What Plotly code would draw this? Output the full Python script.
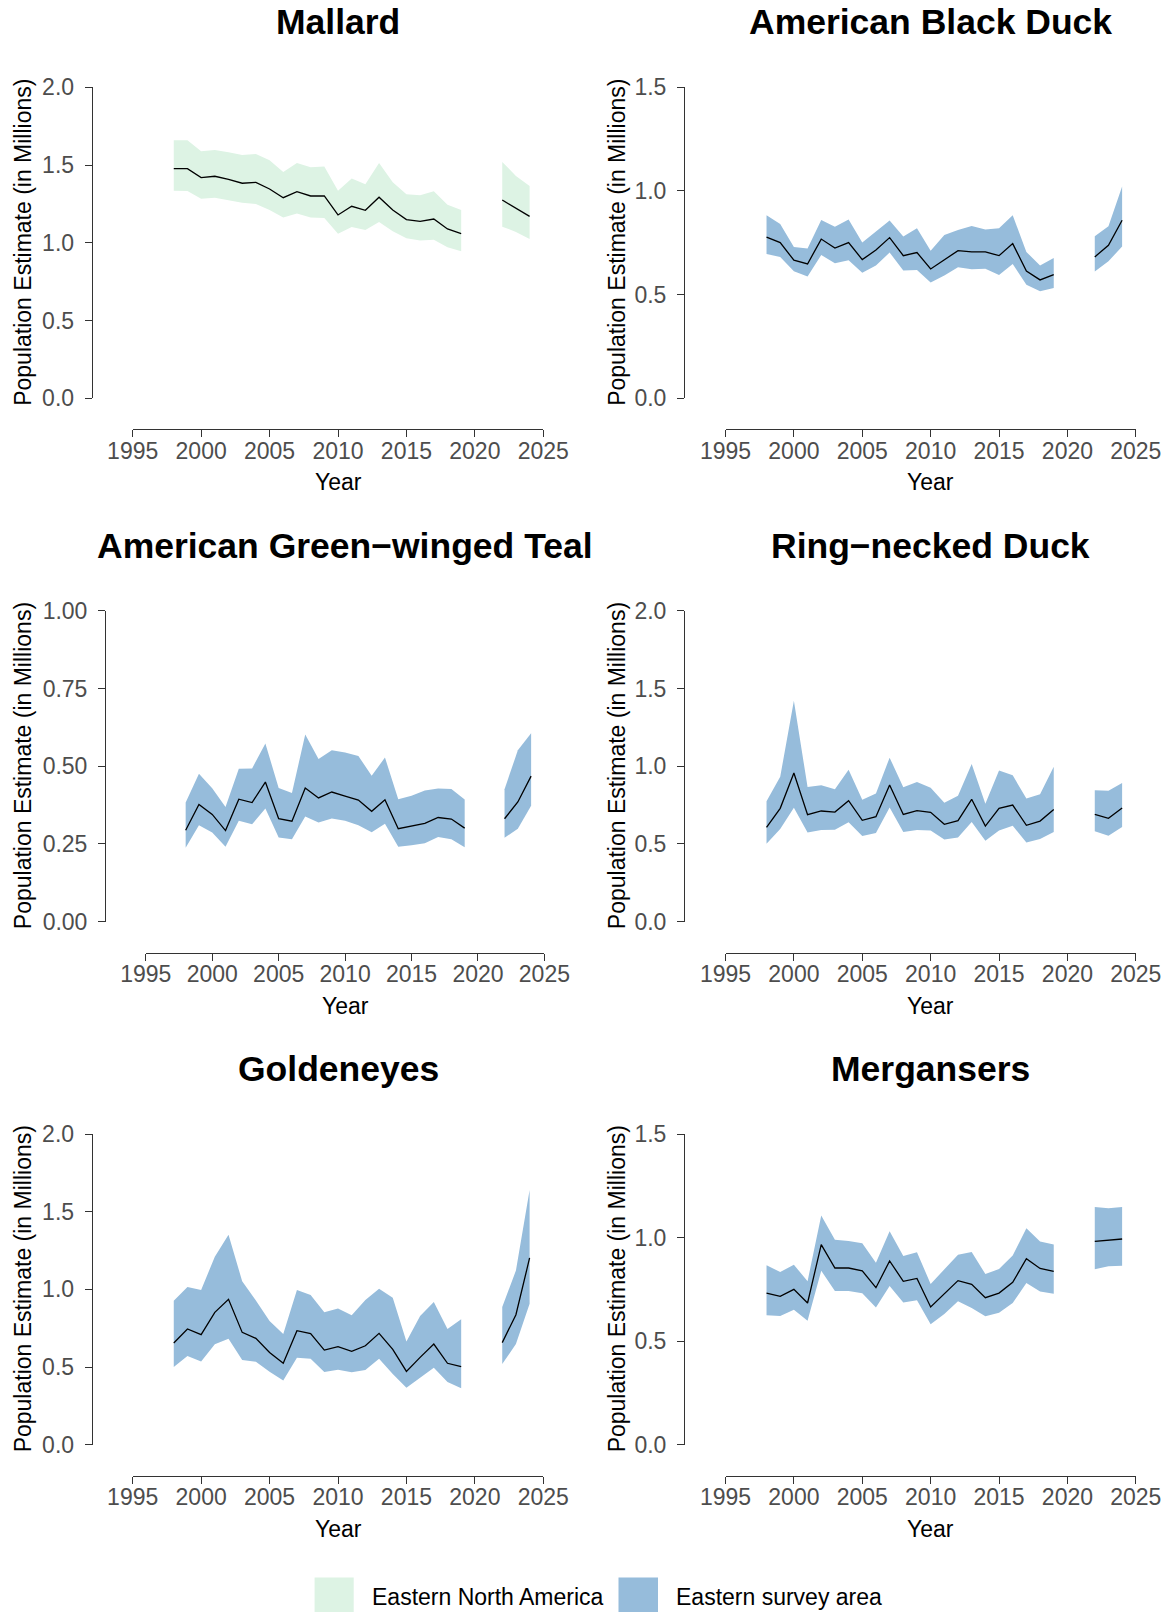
import plotly.graph_objects as go

# Survey years (no survey in 2020-2021)
years = [1998, 1999, 2000, 2001, 2002, 2003, 2004, 2005, 2006, 2007, 2008,
         2009, 2010, 2011, 2012, 2013, 2014, 2015, 2016, 2017, 2018, 2019,
         2022, 2023, 2024]

# Population estimates (millions) with lower / upper credible bounds
mallard_est = [1.477, 1.477, 1.419, 1.428, 1.408, 1.383, 1.389, 1.346, 1.290, 1.329, 1.301,
               1.301, 1.179, 1.235, 1.209, 1.293, 1.211, 1.149, 1.138, 1.153, 1.089, 1.059,
               1.275, 1.223, 1.170]
mallard_lo = [1.335, 1.333, 1.284, 1.290, 1.275, 1.258, 1.250, 1.211, 1.162, 1.188, 1.162,
              1.160, 1.059, 1.102, 1.083, 1.134, 1.074, 1.029, 1.014, 1.020, 0.971, 0.945,
              1.104, 1.070, 1.025]
mallard_hi = [1.659, 1.659, 1.588, 1.597, 1.582, 1.565, 1.571, 1.531, 1.456, 1.513, 1.486,
              1.490, 1.335, 1.413, 1.376, 1.513, 1.389, 1.312, 1.305, 1.331, 1.245, 1.211,
              1.520, 1.430, 1.365]

black_duck_est = [0.777, 0.751, 0.666, 0.648, 0.768, 0.725, 0.751, 0.669, 0.715, 0.775, 0.688,
                  0.703, 0.624, 0.670, 0.712, 0.706, 0.706, 0.688, 0.746, 0.614, 0.571, 0.596,
                  0.682, 0.738, 0.859]
black_duck_lo = [0.696, 0.682, 0.613, 0.587, 0.691, 0.651, 0.666, 0.606, 0.640, 0.703, 0.617,
                 0.619, 0.559, 0.592, 0.632, 0.622, 0.625, 0.595, 0.648, 0.548, 0.516, 0.532,
                 0.611, 0.661, 0.732]
black_duck_hi = [0.883, 0.841, 0.730, 0.723, 0.860, 0.828, 0.862, 0.751, 0.805, 0.857, 0.780,
                 0.820, 0.712, 0.788, 0.812, 0.831, 0.814, 0.820, 0.883, 0.706, 0.640, 0.677,
                 0.781, 0.830, 1.021]

teal_est = [0.294, 0.377, 0.345, 0.293, 0.394, 0.383, 0.449, 0.331, 0.323, 0.430, 0.398,
            0.417, 0.404, 0.391, 0.355, 0.392, 0.299, 0.308, 0.316, 0.335, 0.330, 0.301,
            0.331, 0.385, 0.468]
teal_lo = [0.238, 0.310, 0.287, 0.241, 0.325, 0.313, 0.364, 0.271, 0.265, 0.338, 0.319,
           0.332, 0.325, 0.310, 0.288, 0.315, 0.241, 0.246, 0.252, 0.272, 0.265, 0.239,
           0.270, 0.299, 0.373]
teal_hi = [0.383, 0.476, 0.429, 0.369, 0.492, 0.493, 0.573, 0.430, 0.414, 0.602, 0.523,
           0.551, 0.544, 0.533, 0.469, 0.528, 0.394, 0.405, 0.422, 0.428, 0.427, 0.393,
           0.426, 0.551, 0.606]

ring_est = [0.607, 0.729, 0.956, 0.688, 0.712, 0.705, 0.778, 0.652, 0.675, 0.879, 0.690,
            0.714, 0.703, 0.626, 0.650, 0.787, 0.615, 0.729, 0.750, 0.620, 0.647, 0.722,
            0.690, 0.665, 0.731]
ring_lo = [0.502, 0.596, 0.733, 0.574, 0.590, 0.592, 0.639, 0.551, 0.570, 0.735, 0.577,
           0.590, 0.587, 0.529, 0.542, 0.641, 0.521, 0.587, 0.617, 0.510, 0.532, 0.577,
           0.581, 0.553, 0.609]
ring_hi = [0.774, 0.932, 1.421, 0.866, 0.877, 0.851, 0.977, 0.785, 0.825, 1.055, 0.864,
           0.898, 0.862, 0.765, 0.810, 1.014, 0.759, 0.973, 0.941, 0.793, 0.819, 0.997,
           0.845, 0.842, 0.892]

goldeneye_est = [0.655, 0.745, 0.708, 0.852, 0.936, 0.723, 0.685, 0.594, 0.524, 0.734, 0.715,
                 0.609, 0.631, 0.601, 0.637, 0.717, 0.614, 0.472, 0.562, 0.648, 0.524, 0.502,
                 0.657, 0.837, 1.202]
goldeneye_lo = [0.500, 0.571, 0.536, 0.646, 0.682, 0.545, 0.534, 0.470, 0.414, 0.560, 0.554,
                0.468, 0.483, 0.466, 0.481, 0.554, 0.455, 0.367, 0.429, 0.496, 0.403, 0.363,
                0.519, 0.648, 0.908]
goldeneye_hi = [0.927, 1.015, 0.996, 1.210, 1.352, 1.052, 0.929, 0.796, 0.712, 0.996, 0.964,
                0.852, 0.876, 0.833, 0.931, 1.004, 0.946, 0.665, 0.828, 0.918, 0.745, 0.807,
                0.886, 1.122, 1.639]

merganser_est = [0.732, 0.716, 0.750, 0.684, 0.966, 0.853, 0.853, 0.839, 0.758, 0.887, 0.789,
                 0.803, 0.665, 0.728, 0.792, 0.774, 0.710, 0.732, 0.784, 0.898, 0.851, 0.837,
                 0.982, 0.987, 0.993]
merganser_lo = [0.625, 0.621, 0.652, 0.599, 0.840, 0.742, 0.742, 0.731, 0.662, 0.766, 0.687,
                0.697, 0.581, 0.631, 0.692, 0.660, 0.620, 0.637, 0.684, 0.781, 0.740, 0.729,
                0.847, 0.861, 0.864]
merganser_hi = [0.866, 0.834, 0.869, 0.789, 1.107, 0.990, 0.983, 0.972, 0.879, 1.030, 0.911,
                0.929, 0.776, 0.847, 0.917, 0.930, 0.824, 0.848, 0.913, 1.045, 0.981, 0.967,
                1.148, 1.141, 1.148]

# Axis ticks
year_ticks = [1995, 2000, 2005, 2010, 2015, 2020, 2025]
ticks_0_2 = [0.0, 0.5, 1.0, 1.5, 2.0]
ticks_0_15 = [0.0, 0.5, 1.0, 1.5]
ticks_0_1 = [0.0, 0.25, 0.5, 0.75, 1.0]
labels_0_2 = ["0.0", "0.5", "1.0", "1.5", "2.0"]
labels_0_15 = ["0.0", "0.5", "1.0", "1.5"]
labels_0_1 = ["0.00", "0.25", "0.50", "0.75", "1.00"]

species = ["Mallard", "American Black Duck", "American Green\u2212winged Teal",
           "Ring\u2212necked Duck", "Goldeneyes", "Mergansers"]
regions = ["Eastern North America", "Eastern survey area"]
region_colors = ["#DDF3E4", "#96BCDB"]

W, H = 1169, 1612
FONT = "Liberation Sans, Arial, Helvetica, sans-serif"

# Panel geometry in pixels: y-axis line x, x-axis span (1995..2025),
# y-axis span (bottom, top), x-axis line y, and centre of the y title
panels = [
    dict(name=species[0], est=mallard_est, lo=mallard_lo, hi=mallard_hi, region=0,
         yt=ticks_0_2, yl=labels_0_2, ylin=91.7, xs=(132.7, 543.3), ys=(398.3, 87.3),
         xlin=429.3, ytitle_x=23),
    dict(name=species[1], est=black_duck_est, lo=black_duck_lo, hi=black_duck_hi, region=1,
         yt=ticks_0_15, yl=labels_0_15, ylin=684.0, xs=(725.5, 1135.8), ys=(398.3, 87.3),
         xlin=429.3, ytitle_x=617),
    dict(name=species[2], est=teal_est, lo=teal_lo, hi=teal_hi, region=1,
         yt=ticks_0_1, yl=labels_0_1, ylin=105.0, xs=(145.8, 544.4), ys=(921.7, 610.7),
         xlin=952.7, ytitle_x=23),
    dict(name=species[3], est=ring_est, lo=ring_lo, hi=ring_hi, region=1,
         yt=ticks_0_2, yl=labels_0_2, ylin=684.0, xs=(725.5, 1135.8), ys=(921.7, 610.7),
         xlin=952.7, ytitle_x=617),
    dict(name=species[4], est=goldeneye_est, lo=goldeneye_lo, hi=goldeneye_hi, region=1,
         yt=ticks_0_2, yl=labels_0_2, ylin=91.7, xs=(132.7, 543.3), ys=(1444.7, 1134.0),
         xlin=1475.7, ytitle_x=23),
    dict(name=species[5], est=merganser_est, lo=merganser_lo, hi=merganser_hi, region=1,
         yt=ticks_0_15, yl=labels_0_15, ylin=684.0, xs=(725.5, 1135.8), ys=(1444.7, 1134.0),
         xlin=1475.7, ytitle_x=617),
]


def px(x):
    return x / W


def py(y):
    return 1 - y / H


def segments(xs):
    """Split indices into runs of consecutive years."""
    runs, cur = [], [0]
    for i in range(1, len(xs)):
        if xs[i] - xs[i - 1] == 1:
            cur.append(i)
        else:
            runs.append(cur)
            cur = [i]
    runs.append(cur)
    return runs


fig = go.Figure()
annotations = []
tick_font = dict(family=FONT, size=23, color="#4D4D4D")
layout_axes = {}

for k, p in enumerate(panels):
    s = "" if k == 0 else str(k + 1)
    xa, ya = "x" + s, "y" + s
    color = region_colors[p["region"]]

    # Credible band, drawn per contiguous run of years
    line_x, line_y = [], []
    for run in segments(years):
        yx = [years[i] for i in run]
        fig.add_trace(go.Scatter(
            x=yx + yx[::-1],
            y=[p["hi"][i] for i in run] + [p["lo"][i] for i in run][::-1],
            fill="toself", fillcolor=color, mode="lines",
            line=dict(width=0, color=color), hoverinfo="skip",
            showlegend=False, xaxis=xa, yaxis=ya))
        line_x += yx + [None]
        line_y += [p["est"][i] for i in run] + [None]

    # Point estimate
    fig.add_trace(go.Scatter(
        x=line_x, y=line_y, mode="lines", connectgaps=False,
        line=dict(color="black", width=1.3), showlegend=False,
        xaxis=xa, yaxis=ya))

    x0, x1 = p["xs"]
    yb, yt = p["ys"]
    layout_axes["xaxis" + s] = dict(
        domain=[px(x0), px(x1)], range=[1995, 2025], anchor="free",
        position=py(p["xlin"]), tickvals=year_ticks, ticks="outside", ticklen=7,
        tickwidth=1, tickcolor="#333333", showline=True, linecolor="#333333",
        linewidth=1, showgrid=False, zeroline=False, tickfont=tick_font,
        automargin=False, ticklabelstandoff=-6, fixedrange=True)
    layout_axes["yaxis" + s] = dict(
        domain=[py(yb), py(yt)], range=[0, p["yt"][-1]], anchor="free",
        position=px(p["ylin"]), tickvals=p["yt"], ticktext=p["yl"],
        ticks="outside", ticklen=7, tickwidth=1, tickcolor="#333333",
        showline=True, linecolor="#333333", linewidth=1, showgrid=False,
        zeroline=False, tickfont=tick_font, ticklabelstandoff=6,
        automargin=False, fixedrange=True)

    xc = (x0 + x1) / 2
    # Panel title
    annotations.append(dict(
        text="<b>%s</b>" % p["name"], x=px(xc), y=py(yt - 65), xref="paper",
        yref="paper", xanchor="center", yanchor="middle", showarrow=False,
        font=dict(family=FONT, size=35.5, color="black")))
    # X-axis title
    annotations.append(dict(
        text="Year", x=px(xc), y=py(p["xlin"] + 53), xref="paper", yref="paper",
        xanchor="center", yanchor="middle", showarrow=False,
        font=dict(family=FONT, size=23, color="black")))
    # Y-axis title
    annotations.append(dict(
        text="Population Estimate (in Millions)", x=px(p["ytitle_x"]),
        y=py((yb + yt) / 2), xref="paper", yref="paper", xanchor="center",
        yanchor="middle", textangle=-90, showarrow=False,
        font=dict(family=FONT, size=23, color="black")))

# Legend drawn beneath the panels
shapes = []
legend_boxes = [(314.6, 353.7), (618.5, 658.0)]
legend_text_x = [370.0, 673.5]
for (lx0, lx1), tx, name, col in zip(legend_boxes, legend_text_x, regions, region_colors):
    shapes.append(dict(type="rect", xref="paper", yref="paper",
                       x0=px(lx0), x1=px(lx1), y0=py(1617), y1=py(1577.5),
                       fillcolor=col, line=dict(width=0)))
    annotations.append(dict(
        text=name, x=px(tx), y=py(1597), xref="paper", yref="paper",
        xanchor="left", yanchor="middle", showarrow=False,
        font=dict(family=FONT, size=23, color="black")))

fig.update_layout(
    template="none",
    width=W, height=H, margin=dict(l=0, r=0, t=0, b=0, pad=0, autoexpand=False),
    paper_bgcolor="white", plot_bgcolor="white", showlegend=False,
    annotations=annotations, shapes=shapes, **layout_axes)

fig.write_html("out.html")
